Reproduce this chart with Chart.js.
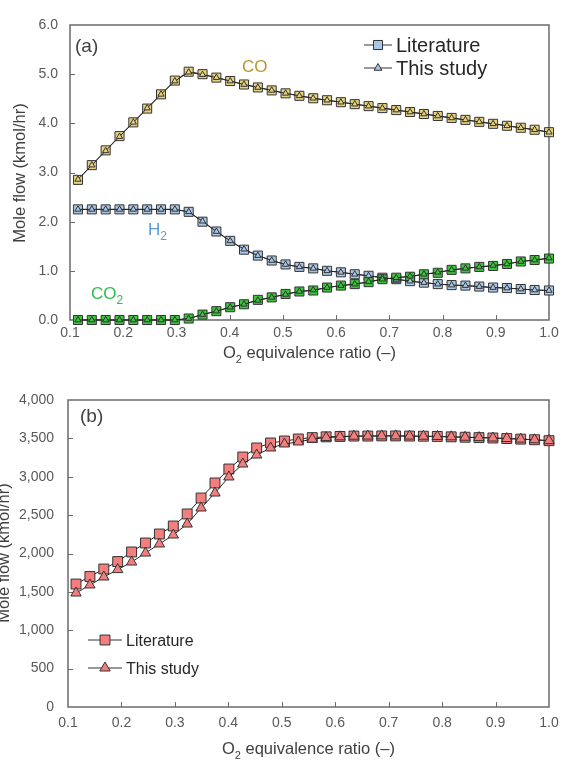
<!DOCTYPE html>
<html>
<head>
<meta charset="utf-8">
<script src="https://cdn.jsdelivr.net/npm/chart.js@4.4.1/dist/chart.umd.min.js"></script>
<style>
  html, body { margin: 0; padding: 0; background: #fff; }
  #wrapA { position: absolute; left: 0; top: 0; width: 564px; height: 375px; }
  #wrapB { position: absolute; left: 0; top: 375px; width: 564px; height: 387px; }
</style>
</head>
<body>
<div id="wrapA"><canvas id="chartA"></canvas></div>
<div id="wrapB"><canvas id="chartB"></canvas></div>
<script>
// O2 equivalence ratio at each case
const ratio = [0.115, 0.141, 0.167, 0.193, 0.219, 0.245, 0.271, 0.297, 0.323, 0.349,
  0.375, 0.401, 0.427, 0.453, 0.479, 0.505, 0.531, 0.557, 0.583, 0.609,
  0.635, 0.661, 0.687, 0.713, 0.739, 0.765, 0.791, 0.817, 0.843, 0.869,
  0.895, 0.921, 0.947, 0.973, 1.0];

// panel (a), kmol/hr
const coLit = [2.85, 3.15, 3.45, 3.74, 4.02, 4.30, 4.59, 4.87, 5.05, 5.00,
  4.93, 4.86, 4.79, 4.73, 4.67, 4.61, 4.56, 4.51, 4.47, 4.43,
  4.39, 4.35, 4.31, 4.27, 4.23, 4.19, 4.15, 4.11, 4.07, 4.03,
  3.99, 3.95, 3.91, 3.87, 3.82];
const coStudy = [2.86, 3.15, 3.44, 3.73, 4.02, 4.31, 4.59, 4.86, 5.04, 4.99,
  4.93, 4.86, 4.79, 4.73, 4.67, 4.61, 4.56, 4.51, 4.47, 4.43,
  4.39, 4.35, 4.31, 4.27, 4.23, 4.19, 4.15, 4.11, 4.07, 4.03,
  3.99, 3.95, 3.91, 3.87, 3.82];
const h2Lit = [2.25, 2.25, 2.25, 2.25, 2.25, 2.25, 2.25, 2.25, 2.20, 2.00,
  1.80, 1.61, 1.43, 1.31, 1.21, 1.13, 1.08, 1.05, 1.00, 0.97,
  0.93, 0.90, 0.86, 0.83, 0.79, 0.76, 0.73, 0.71, 0.70, 0.68,
  0.66, 0.65, 0.63, 0.61, 0.60];
const h2Study = [2.25, 2.25, 2.25, 2.25, 2.25, 2.25, 2.25, 2.25, 2.20, 2.01,
  1.80, 1.61, 1.44, 1.31, 1.21, 1.13, 1.08, 1.05, 1.00, 0.97,
  0.93, 0.90, 0.86, 0.83, 0.79, 0.76, 0.73, 0.71, 0.70, 0.68,
  0.66, 0.65, 0.63, 0.61, 0.60];
const co2Lit = [0, 0, 0, 0, 0, 0, 0, 0, 0.03, 0.11,
  0.18, 0.26, 0.32, 0.41, 0.46, 0.53, 0.58, 0.60, 0.66, 0.70,
  0.73, 0.77, 0.83, 0.86, 0.88, 0.93, 0.96, 1.02, 1.05, 1.08,
  1.10, 1.14, 1.19, 1.22, 1.25];
const co2Study = [0, 0, 0, 0, 0, 0, 0, 0, 0.03, 0.11,
  0.18, 0.26, 0.32, 0.40, 0.46, 0.52, 0.58, 0.61, 0.66, 0.70,
  0.73, 0.78, 0.83, 0.86, 0.89, 0.93, 0.97, 1.02, 1.05, 1.08,
  1.11, 1.14, 1.19, 1.22, 1.26];

// panel (b), kmol/hr
const totalLit = [1602, 1700, 1798, 1895, 2020, 2137, 2254, 2358, 2515, 2723,
  2919, 3101, 3257, 3375, 3440, 3466, 3492, 3510, 3520, 3525,
  3530, 3530, 3532, 3532, 3530, 3528, 3525, 3520, 3515, 3510,
  3505, 3498, 3490, 3482, 3470];
const totalStudy = [1485, 1590, 1694, 1790, 1889, 2006, 2124, 2241, 2384, 2593,
  2788, 2997, 3166, 3283, 3375, 3427, 3453, 3490, 3510, 3520,
  3528, 3530, 3532, 3532, 3530, 3528, 3525, 3520, 3515, 3510,
  3505, 3498, 3490, 3482, 3470];

const xTicks = [0.1, 0.2, 0.3, 0.4, 0.5, 0.6, 0.7, 0.8, 0.9, 1.0];

const FONT = '"Liberation Sans", Arial, sans-serif';
const TICK_COLOR = '#595959';
const TEXT_COLOR = '#404040';
const FRAME_COLOR = '#6b6b6b';

const points = (ys) => ratio.map((x, i) => ({ x, y: ys[i] }));

// text with optional subscript parts: [[text, isSub], ...]
function drawRich(ctx, parts, x, y, size, color, align) {
  ctx.save();
  ctx.fillStyle = color;
  ctx.textBaseline = 'alphabetic';
  ctx.textAlign = 'left';
  let width = 0;
  parts.forEach(([t, sub]) => {
    ctx.font = `${sub ? Math.round(size * 0.68) : size}px ${FONT}`;
    width += ctx.measureText(t).width;
  });
  let cx = align === 'center' ? x - width / 2 : x;
  parts.forEach(([t, sub]) => {
    ctx.font = `${sub ? Math.round(size * 0.68) : size}px ${FONT}`;
    ctx.fillText(t, cx, sub ? y + size * 0.28 : y);
    cx += ctx.measureText(t).width;
  });
  ctx.restore();
}

function drawMarker(ctx, style, x, y, r, fill) {
  ctx.save();
  ctx.fillStyle = fill;
  ctx.strokeStyle = '#333';
  ctx.lineWidth = 1;
  ctx.beginPath();
  if (style === 'rect') {
    const s = r * Math.SQRT1_2;
    ctx.rect(x - s, y - s, 2 * s, 2 * s);
  } else {
    ctx.moveTo(x, y - r);
    ctx.lineTo(x + r * 0.866, y + r * 0.5);
    ctx.lineTo(x - r * 0.866, y + r * 0.5);
    ctx.closePath();
  }
  ctx.fill();
  ctx.stroke();
  ctx.restore();
}

const panelFrame = {
  id: 'panelFrame',
  beforeDatasetsDraw(chart) {
    const { ctx, chartArea: { left, top, right, bottom }, scales: { x, y } } = chart;
    ctx.save();
    ctx.strokeStyle = FRAME_COLOR;
    ctx.lineWidth = 1.5;
    ctx.strokeRect(left, top, right - left, bottom - top);
    ctx.lineWidth = 1;
    ctx.beginPath();
    xTicks.slice(1, -1).forEach((v) => {
      const px = Math.round(x.getPixelForValue(v)) + 0.5;
      ctx.moveTo(px, bottom);
      ctx.lineTo(px, bottom - 5);
    });
    y.ticks.slice(1, -1).forEach((t) => {
      const py = Math.round(y.getPixelForValue(t.value)) + 0.5;
      ctx.moveTo(left, py);
      ctx.lineTo(left + 5, py);
    });
    ctx.stroke();
    ctx.restore();
  },
  afterDraw(chart, args, opts) {
    const { ctx, chartArea: { left, right } } = chart;
    // panel letter
    drawRich(ctx, [[opts.letter]], opts.letterX, opts.letterY, 19, TEXT_COLOR, 'left');
    // axis titles
    drawRich(ctx, [['O'], ['2', true], [' equivalence ratio (–)']],
      (left + right) / 2, opts.xTitleY, 16.5, TEXT_COLOR, 'center');
    ctx.save();
    ctx.translate(opts.yTitleX, opts.yTitleY);
    ctx.rotate(-Math.PI / 2);
    drawRich(ctx, [['Mole flow (kmol/hr)']], 0, 6, 16.5, TEXT_COLOR, 'center');
    ctx.restore();
    // curve labels
    (opts.notes || []).forEach((n) => drawRich(ctx, n.parts, n.x, n.y, 17, n.color, 'left'));
    // legend
    opts.legend.forEach((e) => {
      ctx.save();
      ctx.strokeStyle = '#333';
      ctx.lineWidth = 1;
      ctx.beginPath();
      ctx.moveTo(e.x, e.y);
      ctx.lineTo(e.x + e.len, e.y);
      ctx.stroke();
      ctx.restore();
      drawMarker(ctx, e.style, e.x + e.len / 2, e.y, e.r, e.fill);
      drawRich(ctx, [[e.text]], e.x + e.len + 4, e.y + e.size * 0.36, e.size, '#262626', 'left');
    });
  },
};

function series(data, style, radius, fill, order) {
  return {
    data: points(data),
    showLine: true,
    borderColor: '#262626',
    borderWidth: 1,
    pointStyle: style,
    pointRadius: radius,
    pointBackgroundColor: fill,
    pointBorderColor: '#333',
    pointBorderWidth: 1,
    clip: false,
    order,
  };
}

function axes(yMax, yStep, yLabel, yWidth, yPad, xPad) {
  return {
    x: {
      type: 'linear',
      min: 0.1,
      max: 1.0,
      afterBuildTicks: (s) => { s.ticks = xTicks.map((v) => ({ value: v })); },
      afterFit: (s) => {
        s.height = 55;
        s.paddingLeft = 0;
        s.paddingRight = 0;
      },
      ticks: {
        padding: xPad,
        color: TICK_COLOR,
        font: { family: FONT, size: 14 },
        callback: (v) => v.toFixed(1),
      },
      grid: { display: false, drawTicks: false },
      border: { display: false },
    },
    y: {
      min: 0,
      max: yMax,
      afterFit: (s) => {
        s.width = yWidth;
        s.paddingTop = 0;
        s.paddingBottom = 0;
      },
      ticks: {
        stepSize: yStep,
        padding: yPad,
        color: TICK_COLOR,
        font: { family: FONT, size: 14 },
        callback: yLabel,
      },
      grid: { display: false, drawTicks: false },
      border: { display: false },
    },
  };
}

const baseOptions = {
  responsive: true,
  maintainAspectRatio: false,
  animation: false,
  events: [],
  plugins: { legend: { display: false }, tooltip: { enabled: false } },
};

// eslint-disable-next-line no-unused-vars
const chartA = new Chart(document.getElementById('chartA'), {
  type: 'scatter',
  data: {
    datasets: [
      series(coLit, 'rect', 6.4, '#E6D27E', 6),
      series(h2Lit, 'rect', 6.4, '#A9C7E6', 5),
      series(co2Lit, 'rect', 6.4, '#3DC43D', 4),
      series(coStudy, 'triangle', 3.6, '#E6D27E', 3),
      series(h2Study, 'triangle', 3.6, '#A9C7E6', 2),
      series(co2Study, 'triangle', 3.6, '#3DC43D', 1),
    ],
  },
  options: {
    ...baseOptions,
    layout: { padding: { top: 25, right: 15, left: 0, bottom: 0 } },
    scales: axes(6, 1, (v) => v.toFixed(1), 70, 12, 5),
    plugins: {
      ...baseOptions.plugins,
      panelFrame: {
        letter: '(a)', letterX: 75, letterY: 52,
        xTitleY: 358, yTitleX: 19, yTitleY: 173,
        notes: [
          { parts: [['CO']], x: 242, y: 72, color: '#B8962E' },
          { parts: [['H'], ['2', true]], x: 148, y: 235, color: '#5B9BD5' },
          { parts: [['CO'], ['2', true]], x: 91, y: 299, color: '#2DBE4F' },
        ],
        legend: [
          { x: 364, y: 45, len: 28, style: 'rect', r: 6.4, fill: '#A9C7E6', text: 'Literature', size: 20 },
          { x: 364, y: 68, len: 28, style: 'triangle', r: 4.5, fill: '#A9C7E6', text: 'This study', size: 20 },
        ],
      },
    },
  },
  plugins: [panelFrame],
});

// eslint-disable-next-line no-unused-vars
const chartB = new Chart(document.getElementById('chartB'), {
  type: 'scatter',
  data: {
    datasets: [
      series(totalLit, 'rect', 7, '#F47E7E', 2),
      series(totalStudy, 'triangle', 6, '#F47E7E', 1),
    ],
  },
  options: {
    ...baseOptions,
    layout: { padding: { top: 25, right: 15, left: 0, bottom: 0 } },
    scales: axes(4000, 500, (v) => v.toLocaleString('en-US'), 68, 14, 8),
    plugins: {
      ...baseOptions.plugins,
      panelFrame: {
        letter: '(b)', letterX: 80, letterY: 47,
        xTitleY: 379, yTitleX: 3, yTitleY: 178,
        notes: [],
        legend: [
          { x: 88, y: 265, len: 34, style: 'rect', r: 7, fill: '#F47E7E', text: 'Literature', size: 16 },
          { x: 88, y: 293, len: 34, style: 'triangle', r: 6, fill: '#F47E7E', text: 'This study', size: 16 },
        ],
      },
    },
  },
  plugins: [panelFrame],
});
</script>
</body>
</html>
